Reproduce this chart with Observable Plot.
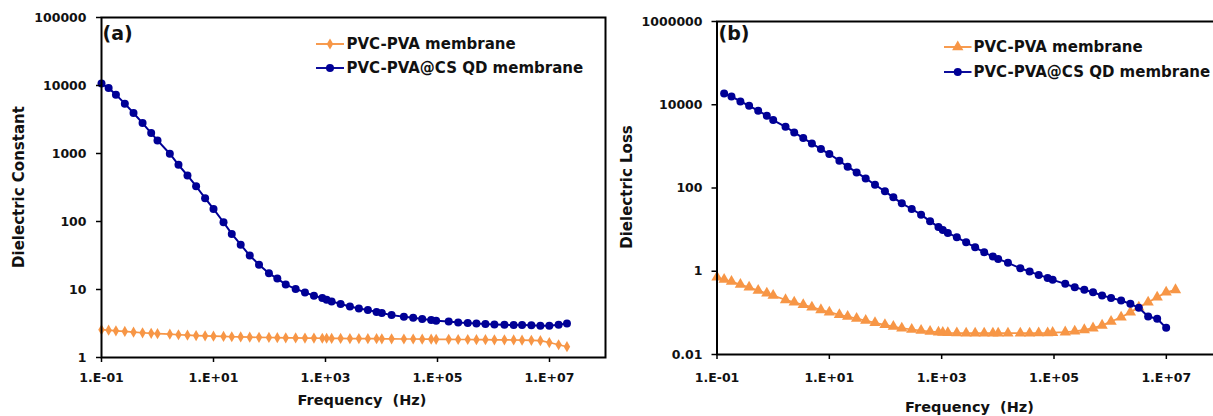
<!DOCTYPE html>
<html><head><meta charset="utf-8">
<script src="https://cdn.jsdelivr.net/npm/d3@7"></script>
<script src="https://cdn.jsdelivr.net/npm/@observablehq/plot@0.6"></script>
<style>
body{margin:0;background:#fff;}
#wrap{position:relative;width:1213px;height:416px;overflow:hidden;font-family:"DejaVu Sans",sans-serif;font-weight:bold;color:#111;}
.abs{position:absolute;white-space:pre;line-height:1;}
.panel{position:absolute;top:0;}
</style></head><body><div id="wrap"></div>
<script>
// ---- data ----
const frequencyHz = [0.1, 0.134, 0.181, 0.261, 0.373, 0.541, 0.771, 1.0, 1.66, 2.37,
  3.43, 4.89, 7.08, 10, 15.1, 21.2, 30.6, 44.4, 65.0, 97.7,
  138, 195, 293, 430, 622, 877, 1047, 1288, 1862, 2729,
  3945, 5715, 8166, 10140, 15140, 25120, 36810, 53330, 77090, 94620,
  158500, 233900, 346700, 495500, 717800, 1038000, 1567000, 2291000, 3236000, 4742000,
  6871000, 9930000, 14550000, 20510000];
const constantPVCPVA = [2.56, 2.52, 2.47, 2.42, 2.36, 2.31, 2.27, 2.24, 2.2, 2.16,
  2.13, 2.10, 2.08, 2.06, 2.04, 2.02, 2.01, 1.99, 1.98, 1.97,
  1.96, 1.95, 1.94, 1.93, 1.93, 1.92, 1.92, 1.91, 1.91, 1.90,
  1.90, 1.89, 1.89, 1.88, 1.88, 1.87, 1.87, 1.86, 1.86, 1.85,
  1.85, 1.84, 1.84, 1.83, 1.83, 1.82, 1.82, 1.81, 1.80, 1.79,
  1.77, 1.66, 1.54, 1.44];
const constantCSQD = [10660, 9180, 7340, 5410, 3940, 2800, 1995, 1556, 992, 682,
  475, 330, 220, 153, 97.5, 65.7, 45.7, 31.5, 23.2, 17.3,
  14.5, 11.8, 10.2, 9.07, 8.11, 7.5, 7.08, 6.68, 6.11, 5.63,
  5.27, 4.99, 4.66, 4.51, 4.2, 3.98, 3.85, 3.68, 3.56, 3.48,
  3.39, 3.28, 3.21, 3.17, 3.1, 3.06, 3.03, 3.0, 3.0, 2.98,
  2.93, 2.93, 3.03, 3.17];
const lossPVCPVA = [0.716, 0.63, 0.565, 0.479, 0.412, 0.343, 0.296, 0.261, 0.205, 0.18,
  0.156, 0.137, 0.118, 0.104, 0.0897, 0.0817, 0.0731, 0.0655, 0.0577, 0.0516,
  0.047, 0.0428, 0.0398, 0.0377, 0.0356, 0.0343, 0.0337, 0.0332, 0.0328, 0.0325,
  0.0325, 0.0325, 0.0325, 0.0325, 0.0325, 0.0325, 0.0325, 0.0327, 0.033, 0.0335,
  0.0345, 0.036, 0.039, 0.043, 0.05, 0.062, 0.0785, 0.1035, 0.136, 0.18,
  0.237, 0.313, 0.357, null];
const lossCSQD = [null, 18660, 15800, 12000, 9460, 7180, 5450, 4290, 2960, 2160,
  1585, 1178, 863, 655, 453, 325, 237, 170, 120, 83,
  59.6, 42.8, 31.3, 22.9, 15.8, 11.6, 9.82, 8.32, 6.53, 4.95,
  3.76, 2.85, 2.25, 1.98, 1.59, 1.18, 0.98, 0.818, 0.693, 0.621,
  0.498, 0.412, 0.357, 0.313, 0.261, 0.229, 0.198, 0.165, 0.132, 0.0817,
  0.072, 0.0437, null, null];

const seriesNames = ["PVC-PVA membrane", "PVC-PVA@CS QD membrane"];
const seriesColors = ["#F79646", "#000096"];
const xTickValues = [0.1, 10, 1000, 100000, 10000000];
const xTickLabels = ["1.E-01", "1.E+01", "1.E+03", "1.E+05", "1.E+07"];
const yTickValuesA = [1, 10, 100, 1000, 10000, 100000];
const yTickLabelsA = ["1", "10", "100", "1000", "10000", "100000"];
const yTickValuesB = [0.01, 1, 100, 10000, 1000000];
const yTickLabelsB = ["0.01", "1", "100", "10000", "1000000"];
const panelLabels = ["(a)", "(b)"];
const xTitle = "Frequency  (Hz)";
const yTitles = ["Dielectric Constant", "Dielectric Loss"];

// ---- build ----
const rows = vals => frequencyHz.map((f, i) => ({f, v: vals[i]})).filter(d => d.v != null);
const xMap = new Map(xTickValues.map((v, i) => [v, xTickLabels[i]]));
const yMapA = new Map(yTickValuesA.map((v, i) => [v, yTickLabelsA[i]]));
const yMapB = new Map(yTickValuesB.map((v, i) => [v, yTickLabelsB[i]]));
const FONT = "DejaVu Sans";
const wrap = document.getElementById("wrap");

function makePanel(o) {
  const p = Plot.plot({
    width: o.width, height: 416,
    marginLeft: o.ml, marginRight: o.mr, marginTop: o.mt, marginBottom: o.mb,
    x: {type: "log", domain: [0.1, 1e8]},
    y: {type: "log", domain: o.ydomain},
    style: {fontFamily: FONT, fontWeight: "bold", color: "#111", background: "transparent", overflow: "visible"},
    marks: [
      Plot.line(rows(o.s0), {x: "f", y: "v", stroke: seriesColors[0], strokeWidth: 1.7}),
      Plot.dot(rows(o.s0), {x: "f", y: "v", symbol: o.sym0, r: o.r0, fill: seriesColors[0], stroke: "none"}),
      Plot.line(rows(o.s1), {x: "f", y: "v", stroke: seriesColors[1], strokeWidth: 2}),
      Plot.dot(rows(o.s1), {x: "f", y: "v", symbol: "circle", r: 4, fill: seriesColors[1], stroke: "none"}),
      Plot.axisX({ticks: xTickValues, tickFormat: d => xMap.get(d), tickSize: 5, tickPadding: o.xpad,
        label: null, fontSize: 12.5, strokeWidth: 1.5, stroke: "#000"}),
      Plot.axisY({ticks: o.yticks, tickFormat: d => o.ymap.get(d), tickSize: 5, tickPadding: o.ypad,
        label: null, fontSize: 12.5, strokeWidth: 1.5, stroke: "#000"}),
      Plot.frame({stroke: "#000", strokeWidth: 2})
    ]
  });
  p.classList.add("panel");
  p.style.left = o.left + "px";
  wrap.appendChild(p);
}

makePanel({left: 0, width: 610, ml: 101, mr: 5, mt: 17, mb: 59, ydomain: [1, 1e5],
  s0: constantPVCPVA, s1: constantCSQD, sym0: "diamond", r0: 3.4,
  yticks: yTickValuesA, ymap: yMapA, xpad: 11, ypad: 10});
makePanel({left: 610, width: 612, ml: 106.5, mr: 0, mt: 21, mb: 62, ydomain: [0.01, 1e6],
  s0: lossPVCPVA, s1: lossCSQD, sym0: "triangle", r0: 4.2,
  yticks: yTickValuesB, ymap: yMapB, xpad: 14, ypad: 9.5});

function addText(txt, x, y, size, transform) {
  const d = document.createElement("div");
  d.className = "abs";
  d.textContent = txt;
  d.style.left = x + "px";
  d.style.top = y + "px";
  d.style.fontSize = size + "px";
  d.style.transform = transform;
  wrap.appendChild(d);
  return d;
}
// panel labels
addText(panelLabels[0], 102.5, 33, 19, "translateY(-50%)");
addText(panelLabels[1], 718.5, 33, 19, "translateY(-50%)");
// axis titles
addText(xTitle, 362, 400, 14.5, "translate(-50%,-50%)");
addText(xTitle, 969.5, 406.5, 14.5, "translate(-50%,-50%)");
addText(yTitles[0], 18.5, 187, 15, "translate(-50%,-50%) rotate(-90deg)");
addText(yTitles[1], 627, 187, 15, "translate(-50%,-50%) rotate(-90deg)");

// legends
const NS = "http://www.w3.org/2000/svg";
function swatch(x0, x1, cy, color, sym, r) {
  const s = document.createElementNS(NS, "svg");
  s.setAttribute("width", x1 - x0 + 10);
  s.setAttribute("height", 16);
  s.style.position = "absolute";
  s.style.left = (x0 - 5) + "px";
  s.style.top = (cy - 8) + "px";
  const ln = document.createElementNS(NS, "line");
  ln.setAttribute("x1", 5); ln.setAttribute("x2", x1 - x0 + 5);
  ln.setAttribute("y1", 8); ln.setAttribute("y2", 8);
  ln.setAttribute("stroke", color); ln.setAttribute("stroke-width", 1.9);
  s.appendChild(ln);
  const m = document.createElementNS(NS, "path");
  m.setAttribute("d", d3.symbol(sym, Math.PI * r * r)());
  m.setAttribute("transform", `translate(${(x1 - x0) / 2 + 5},8)`);
  m.setAttribute("fill", color);
  s.appendChild(m);
  wrap.appendChild(s);
}
const legendA = {x0: 316, x1: 344, tx: 346.5, rows: [44.3, 68.3], syms: [d3.symbolDiamond, d3.symbolCircle], rs: [3.4, 4]};
const legendB = {x0: 944, x1: 971.5, tx: 973.5, rows: [46.7, 71.7], syms: [d3.symbolTriangle, d3.symbolCircle], rs: [4.2, 4]};
for (const L of [legendA, legendB]) {
  seriesNames.forEach((name, i) => {
    swatch(L.x0, L.x1, L.rows[i], seriesColors[i], L.syms[i], L.rs[i]);
    addText(name, L.tx, L.rows[i], 15, "translateY(-50%)");
  });
}
</script></body></html>
